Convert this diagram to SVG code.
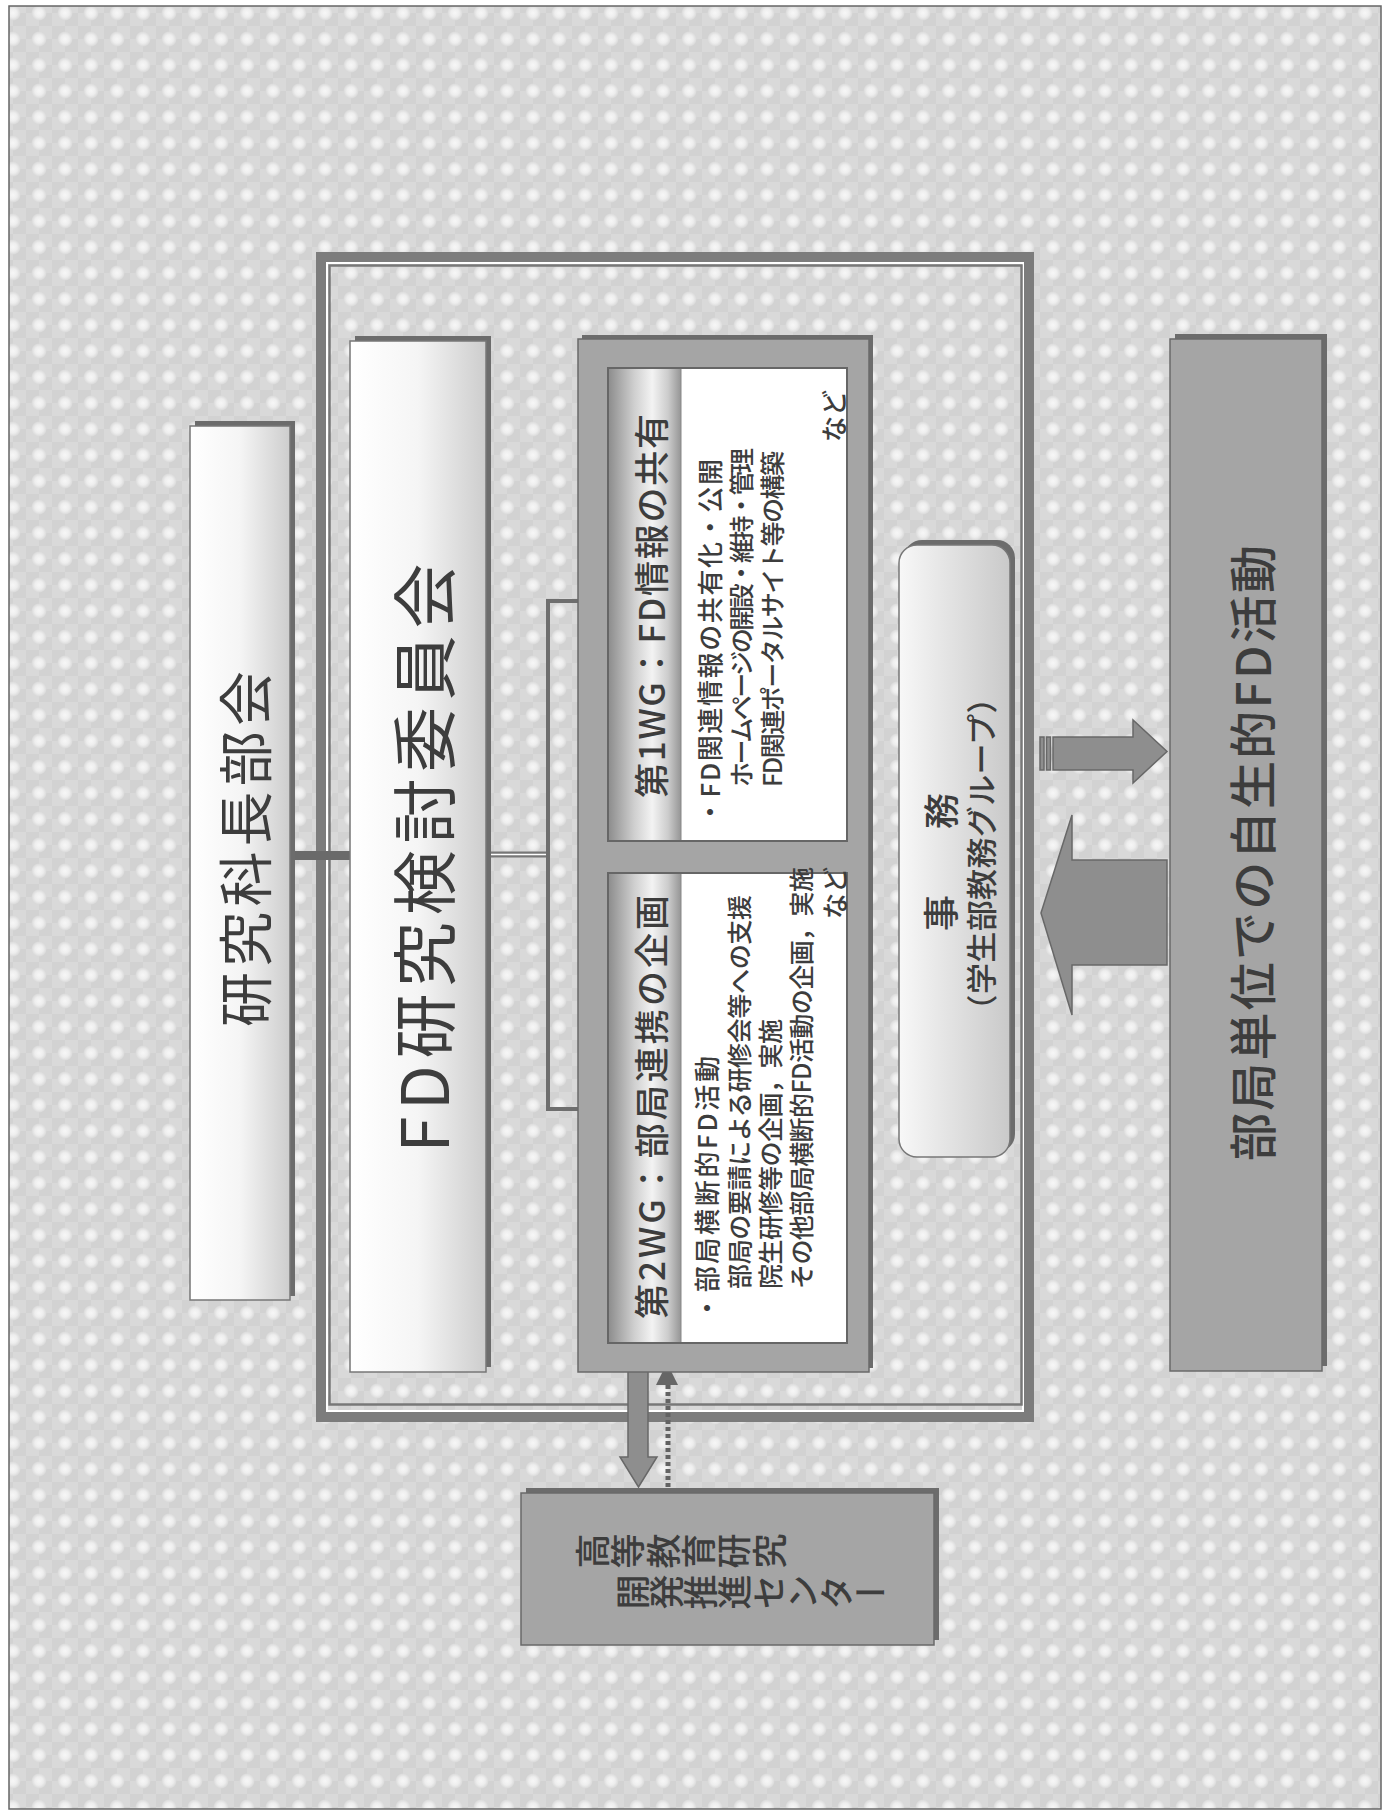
<svg xmlns="http://www.w3.org/2000/svg" width="1389" height="1818" viewBox="0 0 1389 1818">
<defs>
<radialGradient id="dot" cx="0.5" cy="0.5" r="0.5">
<stop offset="0" stop-color="#f7f7f7"/>
<stop offset="0.55" stop-color="#eeeeee"/>
<stop offset="1" stop-color="#d9d9d9"/>
</radialGradient>
<pattern id="bg" width="26" height="26" patternUnits="userSpaceOnUse">
<rect width="26" height="26" fill="#d9d9d9"/>
<rect x="0" y="0" width="13" height="13" fill="#d2d2d2"/>
<rect x="13" y="13" width="13" height="13" fill="#d2d2d2"/>
<circle cx="13" cy="13" r="7.5" fill="url(#dot)"/>
</pattern>
<linearGradient id="gBox" x1="0" y1="0" x2="1" y2="0">
<stop offset="0" stop-color="#ffffff"/>
<stop offset="0.5" stop-color="#f5f5f5"/>
<stop offset="1" stop-color="#cdcdcd"/>
</linearGradient>
<linearGradient id="gTitle" x1="0" y1="0" x2="1" y2="0">
<stop offset="0" stop-color="#8e8e8e"/>
<stop offset="0.35" stop-color="#cfcfcf"/>
<stop offset="0.6" stop-color="#f3f3f3"/>
<stop offset="0.82" stop-color="#cccccc"/>
<stop offset="1" stop-color="#959595"/>
</linearGradient>
<linearGradient id="gJimu" x1="0" y1="0" x2="1" y2="0">
<stop offset="0" stop-color="#f8f8f8"/>
<stop offset="1" stop-color="#c9c9c9"/>
</linearGradient>
<marker id="ah" markerWidth="16" markerHeight="18" refX="15" refY="9" orient="auto" markerUnits="userSpaceOnUse">
<path d="M0,0 L16,9 L0,18 Z" fill="#6e6e6e"/>
</marker>
<style>
.t{font-family:"Noto Sans CJK JP","Noto Sans",sans-serif;fill:#3d3d3d}
.b{font-weight:500}
.shadow{fill:#6c6c6c}
.wbox{fill:url(#gBox);stroke:#777;stroke-width:1.5}
.gbox{fill:#a5a5a5;stroke:#6a6a6a;stroke-width:1.5}
.wgframe{fill:#ffffff;stroke:#666;stroke-width:2}
.title{fill:url(#gTitle)}
.conn{stroke:#6e6e6e;stroke-width:4;fill:none}
.blk{fill:#8e8e8e;stroke:#686868;stroke-width:1.5}
</style>
</defs>

<!-- page background -->
<rect x="0" y="0" width="1389" height="1818" fill="#ffffff"/>
<rect x="9" y="6" width="1372" height="1803" fill="url(#bg)" stroke="#666" stroke-width="1.5"/>

<!-- outer frame -->
<g id="frame">
<rect x="321" y="257" width="708" height="1160" fill="none" stroke="#7c7c7c" stroke-width="10"/>
<rect x="327" y="263" width="696" height="1148" fill="none" stroke="#ffffff" stroke-width="2"/>
<rect x="329.5" y="265.5" width="692" height="1139" fill="none" stroke="#787878" stroke-width="2.5"/>
</g>

<!-- connectors -->
<g id="connectors">
<rect x="294" y="851" width="58" height="9" fill="#6a6a6a"/>
<line x1="488" y1="854.5" x2="550" y2="854.5" stroke="#777" stroke-width="6"/>
<line x1="488" y1="854.5" x2="546" y2="854.5" stroke="#ffffff" stroke-width="1.6"/>
<line class="conn" x1="548" y1="599" x2="548" y2="1111"/>
<line class="conn" x1="546" y1="601" x2="608" y2="601" marker-end="url(#ah)"/>
<line class="conn" x1="546" y1="1109" x2="608" y2="1109" marker-end="url(#ah)"/>
<path class="blk" d="M628,1364 Q628,1360 632,1360 H644 Q648,1360 648,1364 V1457 H657 L638.5,1487 L620,1457 H628 Z"/>
<line x1="668" y1="1487" x2="668" y2="1381" stroke="#626262" stroke-width="5" stroke-dasharray="4 3"/>
<path d="M656,1385 L678,1385 L667,1363 Z" fill="#666"/>
<path class="blk" d="M1167,860 H1072 V815 L1041,913 L1072,1015 V965 H1167 Z"/>
<rect class="blk" x="1040" y="737" width="4" height="33"/>
<rect class="blk" x="1046.5" y="737" width="4" height="33"/>
<path class="blk" d="M1053,737 H1133 V720 L1167,751.5 L1133,783 V770 H1053 Z"/>
</g>

<!-- 研究科長部会 -->
<g id="node-kenkyuka">
<rect class="shadow" x="195" y="421" width="100" height="875"/>
<rect class="wbox" x="190" y="426" width="100" height="874"/>
<text class="t" transform="translate(242 849) rotate(-90)" text-anchor="middle" dominant-baseline="central" font-size="55" textLength="356" lengthAdjust="spacing">研究科長部会</text>
</g>

<!-- FD研究検討委員会 -->
<g id="node-fd">
<rect class="shadow" x="355" y="336" width="136" height="1031"/>
<rect class="wbox" x="350" y="341" width="136" height="1031"/>
<text class="t" transform="translate(421 858) rotate(-90)" text-anchor="middle" dominant-baseline="central" font-size="65" textLength="589" lengthAdjust="spacing">FD研究検討委員会</text>
</g>

<!-- WG container -->
<g id="node-wg">
<rect class="shadow" x="582" y="335" width="291" height="1033"/>
<rect class="gbox" x="578" y="339" width="291" height="1033"/>
</g>

<!-- WG1 -->
<g id="node-wg1">
<rect class="wgframe" x="608" y="368" width="239" height="473"/>
<rect class="title" x="609" y="369" width="72" height="471"/>
<line x1="681" y1="369" x2="681" y2="840" stroke="#888" stroke-width="1"/>
<text class="t b" transform="translate(649 606) rotate(-90)" text-anchor="middle" dominant-baseline="central" font-size="35" textLength="384" lengthAdjust="spacing">第1WG：FD情報の共有</text>
<text class="t b" transform="translate(708 825) rotate(-90)" dominant-baseline="central" font-size="26" textLength="366" lengthAdjust="spacing">・FD関連情報の共有化・公開</text>
<text class="t b" transform="translate(740 787) rotate(-90)" dominant-baseline="central" font-size="25" textLength="339" lengthAdjust="spacing">ホームページの開設・維持・管理</text>
<text class="t b" transform="translate(771 787) rotate(-90)" dominant-baseline="central" font-size="25" textLength="336" lengthAdjust="spacing">FD関連ポータルサイト等の構築</text>
<text class="t b" transform="translate(832 416) rotate(-90)" text-anchor="middle" dominant-baseline="central" font-size="26">など</text>
</g>

<!-- WG2 -->
<g id="node-wg2">
<rect class="wgframe" x="608" y="873" width="239" height="470"/>
<rect class="title" x="609" y="874" width="72" height="468"/>
<line x1="681" y1="874" x2="681" y2="1342" stroke="#888" stroke-width="1"/>
<text class="t b" transform="translate(649 1107) rotate(-90)" text-anchor="middle" dominant-baseline="central" font-size="35" textLength="424" lengthAdjust="spacing">第2WG：部局連携の企画</text>
<text class="t b" transform="translate(705 1321) rotate(-90)" dominant-baseline="central" font-size="26" textLength="265" lengthAdjust="spacing">・部局横断的FD活動</text>
<text class="t b" transform="translate(738 1289) rotate(-90)" dominant-baseline="central" font-size="25" textLength="394" lengthAdjust="spacing">部局の要請による研修会等への支援</text>
<text class="t b" transform="translate(769 1289) rotate(-90)" dominant-baseline="central" font-size="25" textLength="270" lengthAdjust="spacing">院生研修等の企画，実施</text>
<text class="t b" transform="translate(800 1289) rotate(-90)" dominant-baseline="central" font-size="25" textLength="422" lengthAdjust="spacing">その他部局横断的FD活動の企画，実施</text>
<text class="t b" transform="translate(833 893) rotate(-90)" text-anchor="middle" dominant-baseline="central" font-size="26">など</text>
</g>

<!-- 事務 -->
<g id="node-jimu">
<rect class="shadow" x="904" y="540" width="111" height="612" rx="18"/>
<rect x="899" y="545" width="111" height="612" rx="18" fill="url(#gJimu)" stroke="#777" stroke-width="1.5"/>
<text class="t b" transform="translate(939 862) rotate(-90)" text-anchor="middle" dominant-baseline="central" font-size="36" textLength="138" lengthAdjust="spacing">事　務</text>
<text class="t b" transform="translate(979 854) rotate(-90)" text-anchor="middle" dominant-baseline="central" font-size="31" textLength="343" lengthAdjust="spacing">（学生部教務グループ）</text>
</g>

<!-- 部局単位での自生的FD活動 -->
<g id="node-bukyoku">
<rect class="shadow" x="1175" y="334" width="152" height="1032"/>
<rect class="gbox" x="1170" y="339" width="152" height="1032"/>
<text class="t b" transform="translate(1250 853) rotate(-90)" text-anchor="middle" dominant-baseline="central" font-size="48" textLength="616" lengthAdjust="spacing">部局単位での自生的FD活動</text>
</g>

<!-- 高等教育研究開発推進センター -->
<g id="node-center">
<rect class="shadow" x="526" y="1488" width="413" height="152"/>
<rect class="gbox" x="521" y="1493" width="413" height="152"/>
<g transform="translate(575 1551) rotate(-90)">
<text class="t b" writing-mode="vertical-rl" x="0" y="0" font-size="35" textLength="212" lengthAdjust="spacing">高等教育研究</text>
</g>
<g transform="translate(615 1592) rotate(-90)">
<text class="t b" writing-mode="vertical-rl" x="0" y="0" font-size="35" textLength="273" lengthAdjust="spacing">開発推進センター</text>
</g>
</g>
</svg>
